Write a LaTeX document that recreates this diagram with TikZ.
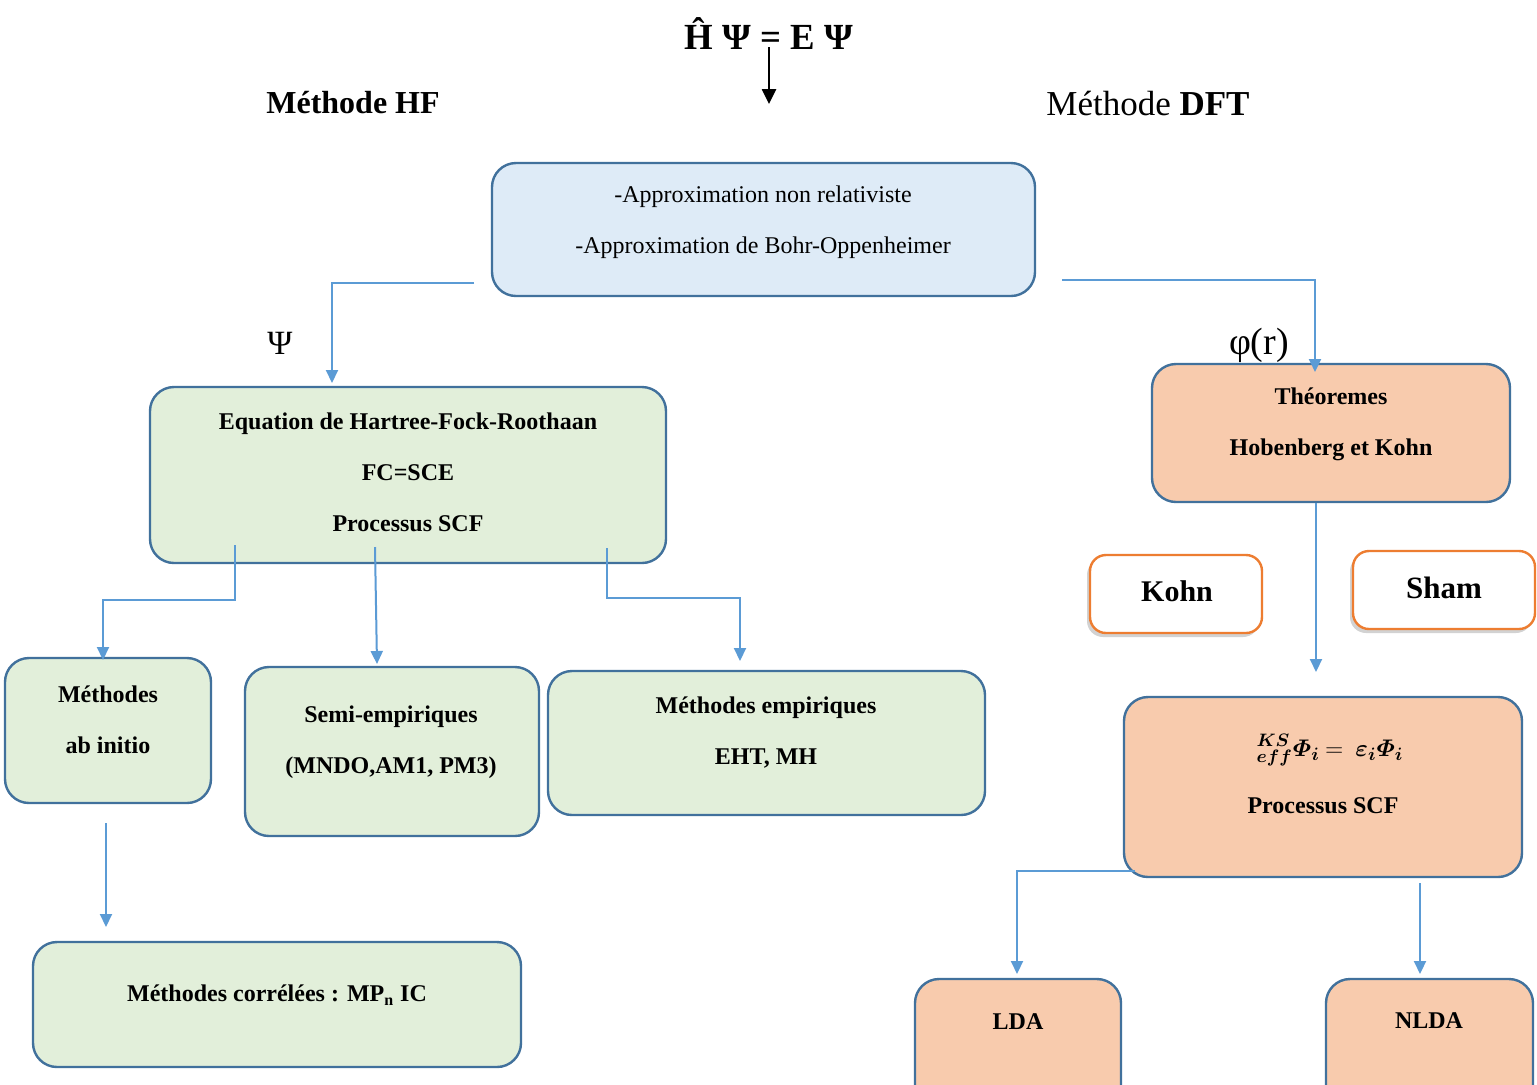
\documentclass[tikz,border=0pt]{standalone}
\usepackage{amsmath}
\usepackage{fontspec}
\setmainfont{Liberation Serif}
\usetikzlibrary{arrows.meta,fit,shadows}
\definecolor{boxblue}{HTML}{41719C}
\definecolor{connblue}{HTML}{5B9BD5}
\definecolor{bluefill}{HTML}{DEEBF7}
\definecolor{greenfill}{HTML}{E2EFDA}
\definecolor{orangefill}{HTML}{F8CBAD}
\definecolor{orangeline}{HTML}{ED7D31}
\newcommand{\kseqn}{$\displaystyle {}^{\boldsymbol{KS}}_{\boldsymbol{eff}}\boldsymbol{\varPhi}_{\boldsymbol{i}} \mathbin{=} \ \boldsymbol{\varepsilon}_{\boldsymbol{i}}\boldsymbol{\varPhi}_{\boldsymbol{i}}$}
\begin{document}
\begin{tikzpicture}[x=0.5pt,y=-0.5pt,
  box/.style={draw=boxblue, line width=1.2pt, rounded corners=12pt, inner sep=0pt},
  bluebox/.style={box, fill=bluefill},
  greenbox/.style={box, fill=greenfill},
  orangebox/.style={box, fill=orangefill},
  namebox/.style={draw=orangeline, line width=1.2pt, fill=white, rounded corners=8pt, inner sep=0pt,
    drop shadow={shadow xshift=-1.5pt, shadow yshift=-2pt, opacity=0.35}},
  conn/.style={draw=connblue, line width=1pt, -{Triangle[width=6pt,length=6.5pt]}},
  txt/.style={font=\fontsize{12}{25.5}\selectfont\bfseries, align=center, inner sep=0pt},
  plain/.style={font=\fontsize{12}{25.5}\selectfont, align=center, inner sep=0pt}]
\clip (0,0) rectangle (1537,1084);
\fill[white] (0,0) rectangle (1537,1084);

% titles
\node[inner sep=0pt, font=\fontsize{18.4}{20}\selectfont\bfseries] (eq) at (769,34) {Ĥ Ψ = E Ψ};
\coordinate (eqa) at (769,47);
\coordinate (eqb) at (769,104);
\draw[line width=1.3pt, -{Triangle[width=7pt,length=7.5pt]}] (eqa) -- (eqb);
\node[inner sep=0pt, font=\fontsize{16}{18}\selectfont\bfseries] (hft) at (353,103) {Méthode HF};
\node[inner sep=0pt, font=\fontsize{17.5}{20}\selectfont] (dftt) at (1148,103) {Méthode \textbf{DFT}};
\node[inner sep=0pt, font=\fontsize{17}{18}\selectfont] (psi) at (280,343) {Ψ};
\node[inner sep=0pt, font=\fontsize{19}{20}\selectfont] (phi) at (1259,345) {φ(r)};

% boxes
\node[bluebox, fit={(492,163) (1035,296)}] (top) {};
\node[plain] (topt) at (763,222) {-Approximation non relativiste\\-Approximation de Bohr-Oppenheimer};

\node[greenbox, fit={(150,387) (666,563)}] (hf) {};
\node[txt] (hft2) at (408,472) {Equation de Hartree-Fock-Roothaan\\FC=SCE\\Processus SCF};

\node[greenbox, fit={(5,658) (211,803)}] (abi) {};
\node[txt] (abit) at (108,720) {Méthodes\\ab initio};

\node[greenbox, fit={(245,667) (539,836)}] (semi) {};
\node[txt] (semit) at (391,742) {Semi-empiriques\\(MNDO,AM1, PM3)};

\node[greenbox, fit={(548,671) (985,815)}] (emp) {};
\node[txt] (empt) at (766,733) {Méthodes empiriques\\EHT, MH};

\node[greenbox, fit={(33,942) (521,1067)}] (corr) {};
\node[txt] (corrt) at (277,995) {Méthodes corrélées : MP\textsubscript{n} IC};

\node[orangebox, fit={(1152,364) (1510,502)}] (theo) {};
\node[txt] (theot) at (1331,424) {Théoremes\\Hobenberg et Kohn};

\node[namebox, fit={(1090,555) (1262,633)}] (kohn) {};
\node[inner sep=0pt, font=\fontsize{15}{18}\selectfont\bfseries] (kohnt) at (1177,591) {Kohn};
\node[namebox, fit={(1353,551) (1535,629)}] (sham) {};
\node[inner sep=0pt, font=\fontsize{15.5}{18}\selectfont\bfseries] (shamt) at (1444,588) {Sham};

\node[orangebox, fit={(1124,697) (1522,877)}] (ks) {};
\node[inner sep=0pt, font=\fontsize{13}{15}\selectfont] (kst) at (1330,750) {\kseqn};
\node[txt] (scf) at (1323,806) {Processus SCF};

\node[orangebox, fit={(915,979) (1121,1110)}] (lda) {};
\node[txt] (ldat) at (1018,1022) {LDA};
\node[orangebox, fit={(1326,979) (1533,1110)}] (nlda) {};
\node[txt] (nldat) at (1429,1021) {NLDA};

% connectors
\coordinate (a1) at (474,283);
\coordinate (a1e) at (332,383);
\draw[conn] (a1) -| (a1e);
\coordinate (a2) at (1062,280);
\coordinate (a2e) at (1315,372);
\draw[conn] (a2) -| (a2e);
\coordinate (a3) at (235,545);
\coordinate (a3m) at (103,600);
\coordinate (a3e) at (103,660);
\draw[conn] (a3) |- (a3m) -- (a3e);
\coordinate (a4) at (375,547);
\coordinate (a4e) at (377,664);
\draw[conn] (a4) -- (a4e);
\coordinate (a5) at (607,548);
\coordinate (a5m) at (740,598);
\coordinate (a5e) at (740,661);
\draw[conn] (a5) |- (a5m) -- (a5e);
\coordinate (a6) at (106,823);
\coordinate (a6e) at (106,927);
\draw[conn] (a6) -- (a6e);
\coordinate (a7) at (1316,503);
\coordinate (a7e) at (1316,672);
\draw[conn] (a7) -- (a7e);
\coordinate (a8) at (1135,871);
\coordinate (a8e) at (1017,974);
\draw[conn] (a8) -| (a8e);
\coordinate (a9) at (1420,883);
\coordinate (a9e) at (1420,974);
\draw[conn] (a9) -- (a9e);
\end{tikzpicture}
\end{document}
